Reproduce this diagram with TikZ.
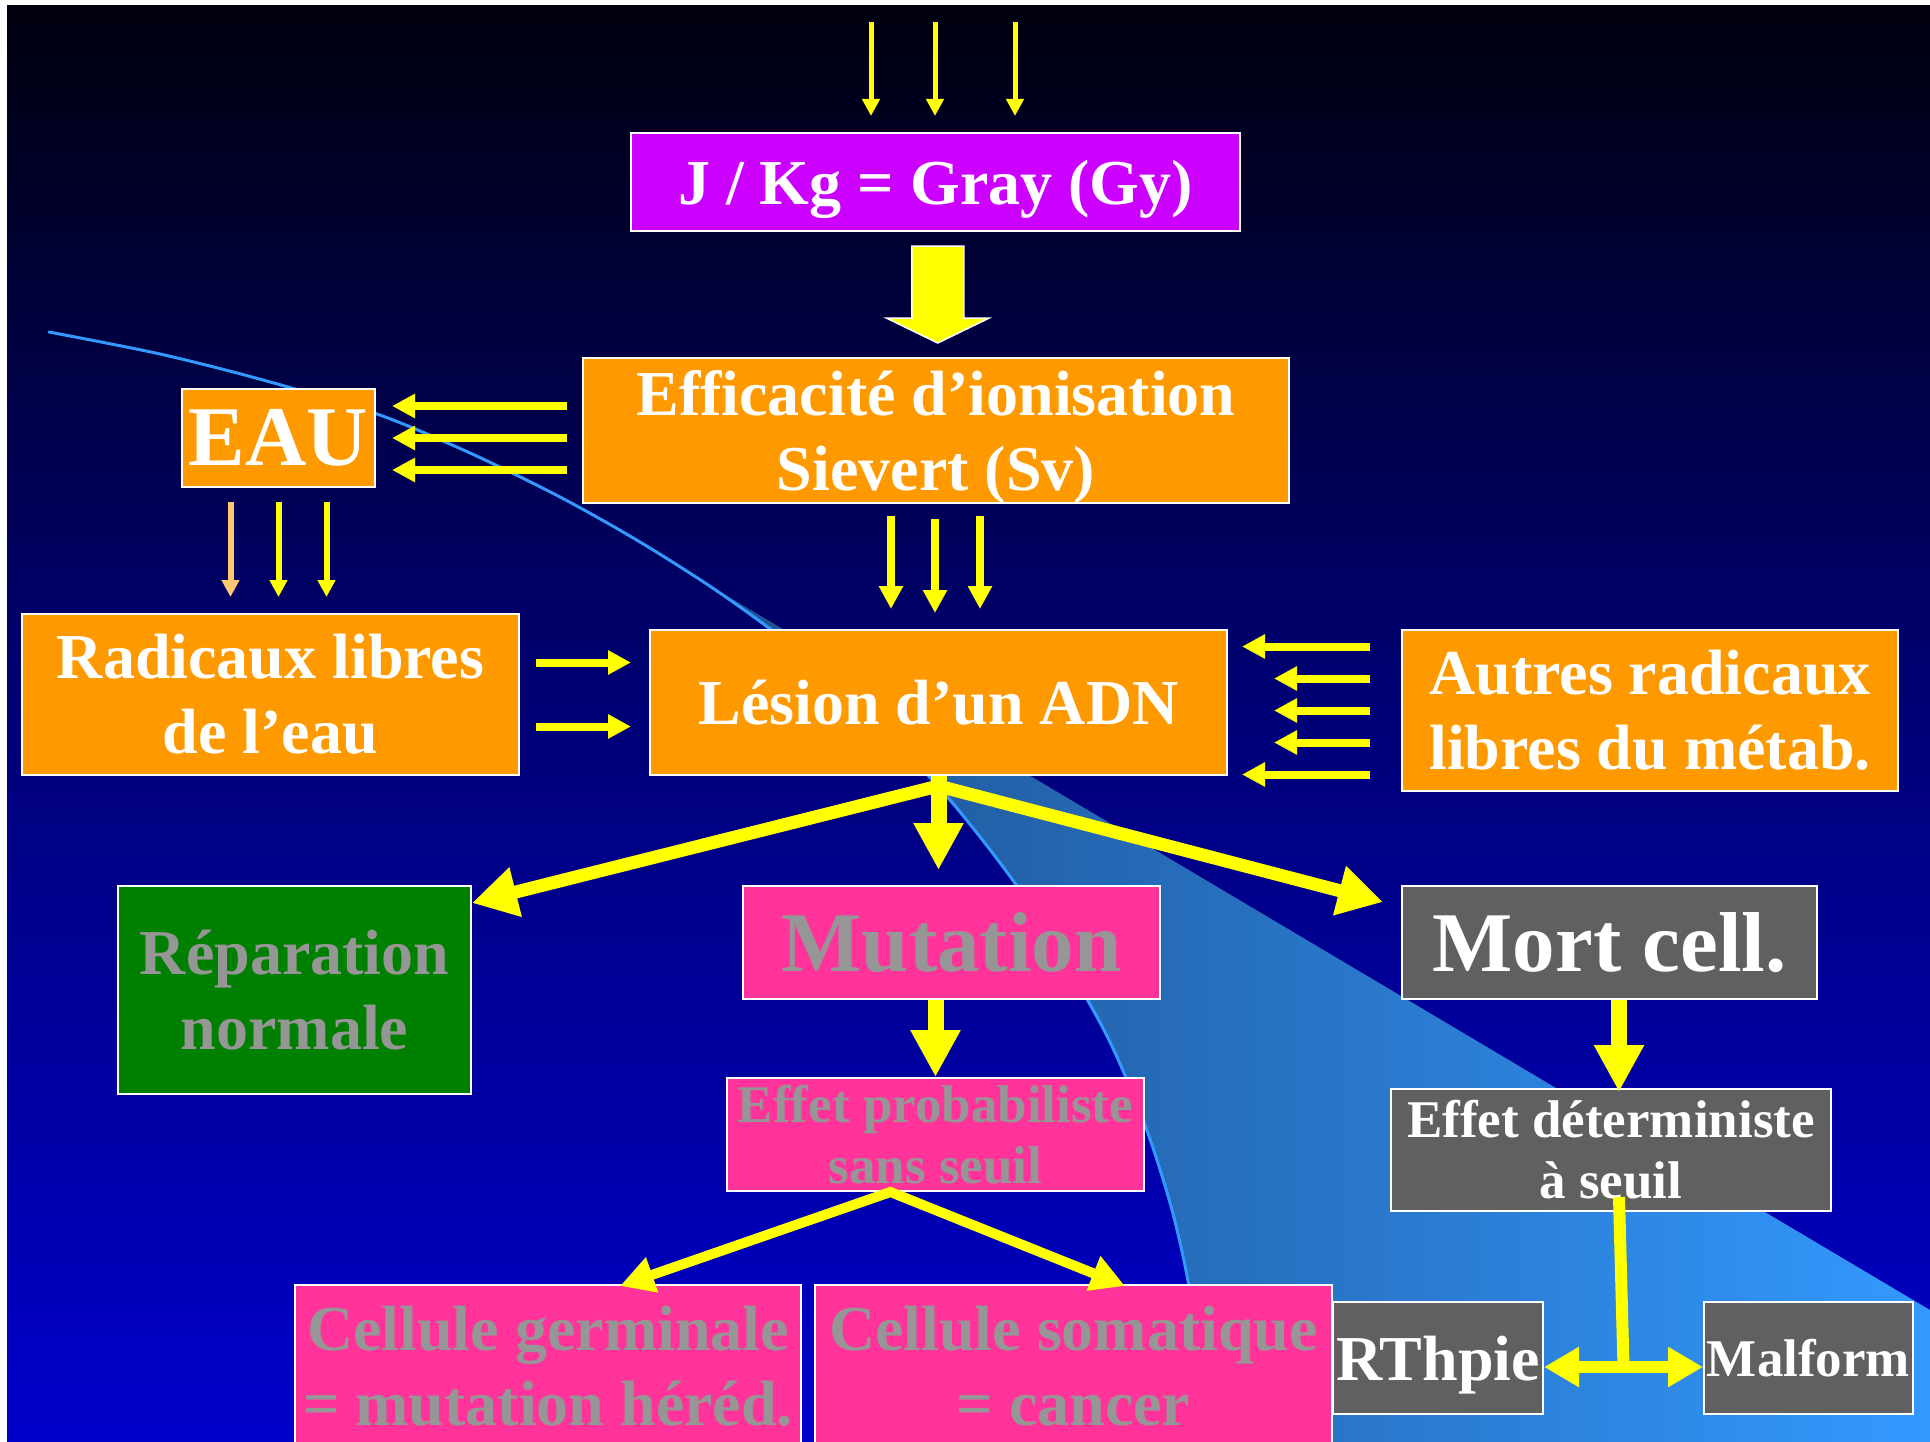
\documentclass[tikz,border=0pt]{standalone}
\usepackage{fontspec}
\setmainfont{Liberation Serif}
\usetikzlibrary{arrows.meta,calc}
\definecolor{bgtop}{HTML}{00000F}
\definecolor{bgmid}{HTML}{000078}
\definecolor{bgbot}{HTML}{0000CC}
\definecolor{wl}{HTML}{1C4A85}
\definecolor{wm}{HTML}{2870C0}
\definecolor{wr}{HTML}{3399FF}
\definecolor{arcc}{HTML}{3399FF}
\definecolor{purp}{HTML}{CC00FF}
\definecolor{orng}{HTML}{FF9900}
\definecolor{grn}{HTML}{008000}
\definecolor{pnk}{HTML}{FF3399}
\definecolor{dgry}{HTML}{606060}
\definecolor{txg}{HTML}{969696}
\definecolor{yel}{HTML}{FFFF00}
\definecolor{peach}{HTML}{FFC870}
\def\arcpts{(49,332) (160,354) (263,380) (377,414) (470,453) (560,497) (640,542) (720,593) (800,652) (875,720) (950,800) (1017,886) (1070,970) (1110,1042) (1145,1125) (1172,1210) (1190,1292) (1200,1378) (1204,1442)}
\begin{document}
\begin{tikzpicture}[x=1pt,y=-1pt,
  box/.style={draw=white, line width=2pt, inner sep=0pt, align=center},
  fs/.style={font=\fontsize{53}{61}\selectfont\bfseries},
  fm/.style={font=\fontsize{64}{75}\selectfont\bfseries},
  fl/.style={font=\fontsize{85}{95}\selectfont\bfseries},
  thinarr/.style={draw=yel, line width=5pt, -{Triangle[length=17pt,width=17pt]}},
  medarr/.style={draw=yel, line width=6pt, -{Triangle[length=17pt,width=17pt]}},
  arr/.style={draw=yel, line width=8pt, -{Triangle[length=23pt,width=23pt]}},
  splitarr/.style={draw=yel, line width=13pt, line join=miter, {Triangle[length=45pt,width=48pt]}-{Triangle[length=45pt,width=48pt]}},
  downarr/.style={draw=yel, line width=16pt, -{Triangle[length=47pt,width=47pt]}},
  twoarr/.style={draw=yel, line width=10pt, line join=miter, {Triangle[length=34pt,width=35pt]}-{Triangle[length=34pt,width=35pt]}},
  dblarr/.style={draw=yel, line width=12pt, {Triangle[length=35pt,width=38pt]}-{Triangle[length=35pt,width=38pt]}},
  stemline/.style={draw=yel, line width=12pt},
  blockarr/.style={fill=yel, draw=white, line width=1.5pt, line join=miter},
  arcline/.style={draw=arcc, line width=3pt, line cap=round}
]
\useasboundingbox (0,0) rectangle (1930,1442);
\clip (0,0) rectangle (1930,1442);
% background
\fill[white] (0,0) rectangle (1930,1442);
\shade[top color=bgtop, bottom color=bgbot, middle color=bgmid] (7,6) rectangle (1930,1442);
% light blue wedge
\begin{scope}
  \clip plot[smooth] coordinates {\arcpts} -- (1930,1442) -- (1930,0) -- (49,0) -- cycle;
  \shade[left color=wl, middle color=wm, right color=wr] (680,568) -- (1930,1310) -- (1930,1442) -- (600,1442) -- cycle;
\end{scope}
\draw[arcline] plot[smooth] coordinates {\arcpts};

% boxes
\node[box, fill=purp, text=white, fm, text depth=0pt, minimum width=609pt, minimum height=98pt] (gy) at (935.5,182) {J / Kg = Gray (Gy)};
\node[box, fill=orng, text=white, fm, text depth=0pt, minimum width=706pt, minimum height=145pt] (eff) at (936,430.5) {Efficacité d’ionisation\\Sievert (Sv)};
\node[box, fill=orng, text=white, fl, minimum width=193pt, minimum height=98pt] (eau) at (278.5,438) {EAU};
\node[box, fill=orng, text=white, fm, minimum width=497pt, minimum height=161pt] (rad) at (270.5,694.5) {Radicaux libres\\de l’eau};
\node[box, fill=orng, text=white, fm, minimum width=577pt, minimum height=145pt] (les) at (938.5,702.5) {Lésion d’un ADN};
\node[box, fill=orng, text=white, fm, minimum width=496pt, minimum height=161pt] (aut) at (1650,710.5) {Autres radicaux\\libres du métab.};
\node[box, fill=grn, text=txg, fm, minimum width=353pt, minimum height=208pt] (rep) at (294.5,990) {Réparation\\normale};
\node[box, fill=pnk, text=txg, fl, minimum width=417pt, minimum height=113pt] (mut) at (951.5,942.5) {Mutation};
\node[box, fill=dgry, text=white, fl, minimum width=415pt, minimum height=113pt] (mort) at (1609.5,942.5) {Mort cell.};
\node[box, fill=pnk, text=txg, fs, minimum width=417pt, minimum height=113pt] (prob) at (935.5,1134.5) {Effet probabiliste\\sans seuil};
\node[box, fill=dgry, text=white, fs, minimum width=440pt, minimum height=122pt] (det) at (1611,1150) {Effet déterministe\\à seuil};
\node[box, fill=pnk, text=txg, fm, minimum width=506pt, minimum height=162pt] (germ) at (548,1366) {Cellule germinale\\= mutation héréd.};
\node[box, fill=pnk, text=txg, fm, minimum width=517pt, minimum height=162pt] (soma) at (1073.5,1366) {Cellule somatique\\= cancer};
\node[box, fill=dgry, text=white, fm, text depth=0pt, minimum width=210pt, minimum height=112pt] (rth) at (1438,1358) {RThpie};
\node[box, fill=dgry, text=white, fs, minimum width=209pt, minimum height=112pt] (malf) at (1808.5,1358) {Malform};

% incoming radiation arrows
\coordinate (s1) at (871,22);
\coordinate (s2) at (935,22);
\coordinate (s3) at (1015,22);
\foreach \s in {s1,s2,s3} \draw[thinarr, shorten >=16pt] (\s) -- (\s |- gy.north);

% block arrow Gray -> Efficacite
\coordinate (bb) at ($(gy.south)!0.5!(eff.north)$);
\draw[blockarr, shift={(bb)}] (-24,-48.5) -- (28,-48.5) -- (28,23.5) -- (53.5,23.5) -- (2,48.5) -- (-49.5,23.5) -- (-24,23.5) -- cycle;

% Efficacite -> EAU
\foreach \d [count=\i] in {32,0,-32} {
  \coordinate (c\i) at ([yshift=\d pt]eau.east);
  \draw[arr, shorten <=15pt, shorten >=16pt] (eff.west |- c\i) -- (c\i);
}
% EAU -> Radicaux
\foreach \d/\c [count=\i] in {-48/peach,0/yel,48/yel} {
  \coordinate (d\i) at ([xshift=\d pt]eau.south);
  \draw[medarr, draw=\c, shorten <=14pt, shorten >=16pt] (d\i) -- (d\i |- rad.north);
}
% Efficacite -> Lesion
\foreach \d/\a/\b [count=\i] in {-45/12/20, -1/15/16, 44/12/20} {
  \coordinate (e\i) at ([xshift=\d pt]eff.south);
  \draw[arr, shorten <=\a pt, shorten >=\b pt] (e\i) -- (e\i |- les.north);
}
% Radicaux -> Lesion
\foreach \d [count=\i] in {32,-32} {
  \coordinate (f\i) at ([yshift=\d pt]rad.east);
  \draw[arr, shorten <=16pt, shorten >=18pt] (f\i) -- (f\i -| les.west);
}
% Autres -> Lesion
\foreach \d/\b [count=\i] in {64/14, 32/46, 0/46, -32/46, -64/14} {
  \coordinate (g\i) at ([yshift=\d pt]aut.west);
  \draw[arr, shorten <=31pt, shorten >=\b pt] (g\i) -- (g\i -| les.east);
}
% Lesion -> three outcomes
\coordinate (mt) at (les.south |- mut.north);
\coordinate (j) at ([yshift=-10pt]les.south);
\coordinate (tl) at ([yshift=-18pt]rep.north east);
\coordinate (tr) at ([xshift=-18pt,yshift=-17pt]mort.north west);
\draw[splitarr] (tl) -- (j) -- (tr);
\draw[downarr] (les.south) -- ([yshift=15pt]mt);
% Mutation -> Effet probabiliste
\coordinate (pn) at (prob.north);
\draw[downarr] (pn |- mut.south) -- (pn);
% Effet probabiliste -> cellules
\coordinate (ps) at ([xshift=-45pt]prob.south);
\coordinate (gl) at ([xshift=72pt,yshift=-2pt]germ.north);
\coordinate (gr) at ([xshift=51.5pt,yshift=-2pt]soma.north);
\draw[twoarr] (gl) -- (ps) -- (gr);
% Mort -> Effet deterministe
\coordinate (dk) at ([xshift=8pt,yshift=-4pt]det.north);
\draw[downarr] (dk |- mort.south) -- (dk);
% Effet deterministe -> RThpie / Malform
\coordinate (jx) at ($(rth.east)!0.5!(malf.west)+(0,9)$);
\draw[stemline] ([xshift=8pt,yshift=15pt]det.south) -- (jx);
\draw[dblarr] ([yshift=-9pt]rth.east) -- ([yshift=-9pt]malf.west);
\end{tikzpicture}
\end{document}
